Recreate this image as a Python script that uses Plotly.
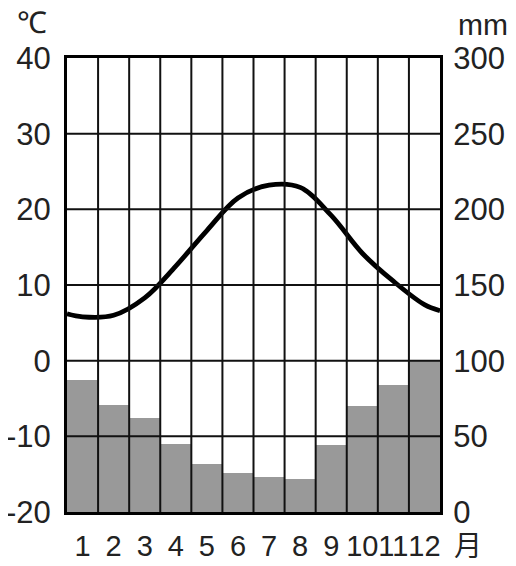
import plotly.graph_objects as go

months = [1, 2, 3, 4, 5, 6, 7, 8, 9, 10, 11, 12]
month_labels = ["1", "2", "3", "4", "5", "6", "7", "8", "9", "10", "11", "12"]
temp_c = [5.8, 6.0, 8.3, 12.5, 17.2, 21.5, 23.2, 22.9, 19.2, 14.2, 10.5, 7.4]
temp_start = 6.2   # value at left edge (mid-winter wrap)
temp_end = 6.6     # value at right edge
precip_mm = [87, 71, 62, 45, 32, 26, 23, 22, 44, 70, 84, 100]
temp_ticks = [-20, -10, 0, 10, 20, 30, 40]
temp_tick_labels = ["-20", "-10", "0", "10", "20", "30", "40"]
precip_ticks = [0, 50, 100, 150, 200, 250, 300]

FONT = "Liberation Sans, Arial, sans-serif"

fig = go.Figure()
fig.add_trace(go.Bar(
    x=months, y=precip_mm, yaxis="y2",
    marker=dict(color="#999999", line=dict(width=0)),
    width=1.0, showlegend=False,
))
line_x = [months[0] - 0.5] + months + [months[-1] + 0.5]
line_y = [temp_start] + temp_c + [temp_end]
fig.add_trace(go.Scatter(
    x=line_x, y=line_y, mode="lines",
    line=dict(color="black", width=4.8, shape="spline", smoothing=1.0),
    showlegend=False, cliponaxis=True,
))

shapes = []
for i in range(len(months) - 1):
    xb = (months[i] + months[i + 1]) / 2
    shapes.append(dict(type="line", xref="x", yref="paper", x0=xb, x1=xb, y0=0, y1=1,
                       line=dict(color="#111111", width=2), layer="above"))
for tv in temp_ticks[1:-1]:
    shapes.append(dict(type="line", xref="paper", yref="y", x0=0, x1=1, y0=tv, y1=tv,
                       line=dict(color="#111111", width=2), layer="above"))

# page body has an 8px margin; lay the figure out in window pixels minus that
OFF = 8
W, H = 516 - 2 * OFF, 566 - 2 * OFF
plot_left, plot_right, plot_top, plot_bottom = 67 - OFF, 440 - OFF, 58 - OFF, 512 - OFF
l, r, t, b = plot_left, W - plot_right, plot_top, H - plot_bottom
pw, ph = W - l - r, H - t - b

def px(xp):
    return (xp - OFF - l) / pw

def py(yp):
    return 1 - (yp - OFF - t) / ph

fig.update_layout(
    width=W, height=H,
    margin=dict(l=l, r=r, t=t, b=b, autoexpand=False),
    paper_bgcolor="white", plot_bgcolor="white",
    bargap=0,
    shapes=shapes,
    xaxis=dict(range=[0.5, 12.5], tickvals=months, ticktext=month_labels,
               tickangle=0, ticks="outside", ticklen=6, tickcolor="rgba(0,0,0,0)",
               showgrid=False, zeroline=False, automargin=False,
               showline=True, linecolor="black", linewidth=3, mirror=True,
               tickfont=dict(family=FONT, size=29, color="#222")),
    yaxis=dict(range=[-20, 40], tickvals=temp_ticks, ticktext=temp_tick_labels,
               showgrid=False, zeroline=False, automargin=False,
               ticks="outside", ticklen=7, tickcolor="rgba(0,0,0,0)",
               showline=True, linecolor="black", linewidth=3, mirror=True,
               tickfont=dict(family=FONT, size=31, color="#222")),
    yaxis2=dict(range=[0, 300], tickvals=precip_ticks, overlaying="y", side="right",
                showgrid=False, zeroline=False, automargin=False,
                ticks="outside", ticklen=6, tickcolor="rgba(0,0,0,0)",
                tickfont=dict(family=FONT, size=31, color="#222")),
)

fig.add_annotation(text="℃", x=px(32), y=py(22), xref="paper", yref="paper",
                   xanchor="center", yanchor="middle",
                   showarrow=False, font=dict(family=FONT, size=30, color="#222"))
fig.add_annotation(text="mm", x=px(483), y=py(24), xref="paper", yref="paper",
                   xanchor="center", yanchor="middle",
                   showarrow=False, font=dict(family=FONT, size=30, color="#222"))
fig.add_annotation(text="月", x=px(468), y=py(544), xref="paper", yref="paper",
                   xanchor="center", yanchor="middle",
                   showarrow=False, font=dict(family="Noto Sans CJK SC", size=28, color="#222"))

fig.write_html("out.html")
